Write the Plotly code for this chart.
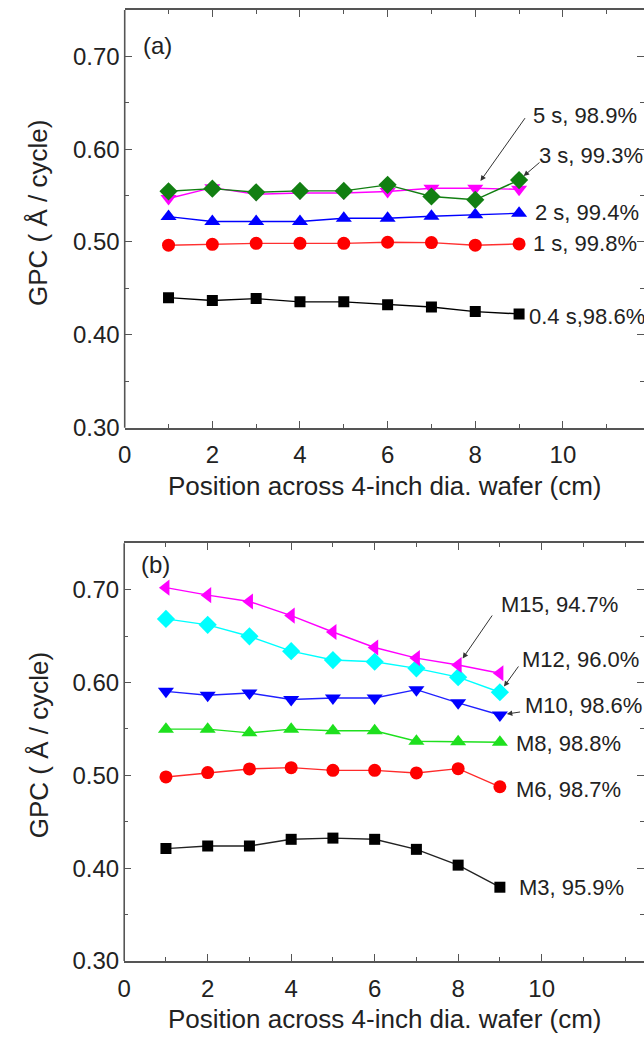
import plotly.graph_objects as go

# ---------------- data ----------------
pos = [1, 2, 3, 4, 5, 6, 7, 8, 9]

# panel (a): pulse time series
a_04s = [0.4400, 0.4370, 0.4390, 0.4355, 0.4355, 0.4325, 0.4300, 0.4250, 0.4225]
a_1s = [0.4965, 0.4975, 0.4985, 0.4985, 0.4985, 0.4997, 0.4993, 0.4965, 0.4979]
a_2s = [0.5273, 0.5220, 0.5220, 0.5220, 0.5255, 0.5255, 0.5277, 0.5294, 0.5309]
a_3s = [0.5546, 0.5574, 0.5535, 0.5550, 0.5550, 0.5615, 0.5490, 0.5454, 0.5667]
a_5s = [0.5468, 0.5585, 0.5514, 0.5528, 0.5528, 0.5543, 0.5578, 0.5578, 0.5567]
a_labels = ["0.4 s,98.6%", "1 s, 99.8%", "2 s, 99.4%", "3 s, 99.3%", "5 s, 98.9%"]

# panel (b): M series
b_M3 = [0.4210, 0.4238, 0.4238, 0.4310, 0.4323, 0.4310, 0.4202, 0.4032, 0.3794]
b_M6 = [0.4982, 0.5029, 0.5068, 0.5082, 0.5053, 0.5053, 0.5025, 0.5071, 0.4876]
b_M8 = [0.5497, 0.5497, 0.5457, 0.5497, 0.5479, 0.5479, 0.5367, 0.5362, 0.5355]
b_M10 = [0.5904, 0.5862, 0.5886, 0.5816, 0.5833, 0.5833, 0.5922, 0.5780, 0.5649]
b_M12 = [0.6684, 0.6620, 0.6497, 0.6337, 0.6241, 0.6223, 0.6152, 0.6057, 0.5894]
b_M15 = [0.7021, 0.6940, 0.6872, 0.6720, 0.6543, 0.6376, 0.6262, 0.6188, 0.6099]
b_labels = ["M3, 95.9%", "M6, 98.7%", "M8, 98.8%", "M10, 98.6%", "M12, 96.0%", "M15, 94.7%"]

x_ticks = [0, 2, 4, 6, 8, 10]
y_ticks = [0.30, 0.40, 0.50, 0.60, 0.70]
x_title = "Position across 4-inch dia. wafer (cm)"
y_title = "GPC ( Å / cycle)"

FONT = "Arial, Liberation Sans, sans-serif"
W, H = 644, 1048
TXT = "#222222"
AXC = "#555555"

fig = go.Figure()


def add(x, y, color, symbol, size, xa, ya, lcolor=None):
    fig.add_trace(go.Scatter(
        x=x, y=y, mode="lines+markers", xaxis=xa, yaxis=ya,
        line=dict(color=lcolor or color, width=1.4),
        marker=dict(color=color, symbol=symbol, size=size, line=dict(width=0)),
        showlegend=False, hoverinfo="skip"))


# panel (a)
add(pos, a_04s, "#000000", "square", 11, "x", "y")
add(pos, a_1s, "#ff0000", "circle", 13, "x", "y", "#ff3030")
add(pos, a_2s, "#0000ff", "triangle-up", 14, "x", "y")
add(pos, a_5s, "#ff00ff", "triangle-down", 14, "x", "y")
add(pos, a_3s, "#127f12", "diamond", 14, "x", "y")

# panel (b)
add(pos, b_M3, "#000000", "square", 11, "x2", "y2", "#222222")
add(pos, b_M6, "#ff0000", "circle", 13, "x2", "y2", "#ff2a2a")
add(pos, b_M8, "#1ee01e", "triangle-up", 14, "x2", "y2")
add(pos, b_M10, "#0000ff", "triangle-down", 14, "x2", "y2", "#2020ff")
add(pos, b_M12, "#00ffff", "diamond", 14, "x2", "y2")
add(pos, b_M15, "#ff00ff", "triangle-left", 14, "x2", "y2")


def xaxis(domain, rng, anchor):
    return dict(domain=domain, range=rng, anchor=anchor, showline=True, linecolor=AXC,
                linewidth=1.6, mirror="allticks", ticks="inside", ticklen=7, tickwidth=1.4,
                tickcolor=AXC, tickmode="array", tickvals=x_ticks,
                ticktext=[str(v) for v in x_ticks],
                showgrid=False, zeroline=False,
                tickfont=dict(family=FONT, size=24, color=TXT),
                ticklabelstandoff=5,
                minor=dict(ticks="inside", ticklen=4, tickwidth=1.2, tickcolor=AXC,
                           dtick=1, tick0=0, showgrid=False))


def yaxis(domain, anchor):
    return dict(domain=domain, anchor=anchor, range=[0.30, 0.75], showline=False,
                mirror="allticks", ticks="inside",
                ticklen=7, tickwidth=1.4, tickcolor=AXC, tickmode="array",
                tickvals=y_ticks, ticktext=["%.2f" % v for v in y_ticks],
                showgrid=False, zeroline=False,
                tickfont=dict(family=FONT, size=24, color=TXT),
                ticklabelstandoff=4,
                minor=dict(ticks="inside", ticklen=4, tickwidth=1.2, tickcolor=AXC,
                           dtick=0.05, tick0=0.3, showgrid=False))


ya_dom = [1 - 433 / H, 1 - 10 / H]
yb_dom = [1 - 973 / H, 1 - 550 / H]
xa_dom = [119 / W, 1.0]
xb_dom = [118.5 / W, 1.0]

fig.update_layout(
    width=W, height=H, margin=dict(l=0, r=0, t=0, b=0),
    paper_bgcolor="white", plot_bgcolor="white",
    font=dict(family=FONT, color=TXT),
    xaxis=xaxis(xa_dom, [0, 525 / 44.3], "y"),
    yaxis=yaxis(ya_dom, "x"),
    xaxis2=xaxis(xb_dom, [0, 525.5 / 42.2], "y2"),
    yaxis2=yaxis(yb_dom, "x2"),
    shapes=[
        dict(type="line", xref="x domain", yref="y domain", x0=0, x1=0, y0=0, y1=1,
             line=dict(color=AXC, width=1.6)),
        dict(type="line", xref="x2 domain", yref="y2 domain", x0=0, x1=0, y0=0, y1=1,
             line=dict(color=AXC, width=1.6)),
    ],
)

ann = []
LBL = dict(family=FONT, size=22, color=TXT)

# panel letters
ann.append(dict(text="(a)", x=135 / W, y=1 - 46 / H, xref="paper", yref="paper",
                xanchor="left", yanchor="middle", showarrow=False,
                font=dict(family=FONT, size=24, color=TXT)))
ann.append(dict(text="(b)", x=133 / W, y=1 - 572 / H, xref="paper", yref="paper",
                xanchor="left", yanchor="middle", showarrow=False,
                font=dict(family=FONT, size=24, color=TXT)))

# axis titles
for yc in (216, 755):
    ann.append(dict(text=y_title, x=32 / W, y=1 - yc / H, xref="paper", yref="paper",
                    textangle=-90, showarrow=False, xanchor="center", yanchor="middle",
                    font=dict(family=FONT, size=26, color=TXT)))
for yc in (492, 1032):
    ann.append(dict(text=x_title, x=382 / W, y=1 - yc / H, xref="paper", yref="paper",
                    showarrow=False, xanchor="center", yanchor="middle",
                    font=dict(family=FONT, size=26, color=TXT)))

# panel (a) labels (left x, centre y in data coords)
a_lab_pos = [(9.17, 0.420), (9.28, 0.4979), (9.32, 0.532), (9.42, 0.5926), (9.28, 0.636)]
for t, (lx, ly) in zip(a_labels, a_lab_pos):
    ann.append(dict(text=t, x=lx, y=ly, xref="x", yref="y", xanchor="left",
                    yanchor="middle", showarrow=False, font=LBL))
# arrows (a)
ann.append(dict(text="", x=pos[7], y=a_5s[7], xref="x", yref="y", ax=9.16, ay=0.635,
                axref="x", ayref="y", showarrow=True, arrowhead=2, arrowsize=1.1,
                arrowwidth=1, arrowcolor="#333333", standoff=9))
ann.append(dict(text="", x=pos[8], y=a_3s[8], xref="x", yref="y", ax=9.5, ay=0.587,
                axref="x", ayref="y", showarrow=True, arrowhead=2, arrowsize=1.1,
                arrowwidth=1, arrowcolor="#333333", standoff=6))

# panel (b) labels
b_lab_pos = [(9.40, 0.3787), (9.34, 0.4848), (9.34, 0.5344), (9.56, 0.5755), (9.49, 0.6245), (8.99, 0.6844)]
for t, (lx, ly) in zip(b_labels, b_lab_pos):
    ann.append(dict(text=t, x=lx, y=ly, xref="x2", yref="y2", xanchor="left",
                    yanchor="middle", showarrow=False, font=LBL))
ann.append(dict(text="", x=pos[7], y=b_M15[7], xref="x2", yref="y2", ax=8.84, ay=0.6737,
                axref="x2", ayref="y2", showarrow=True, arrowhead=2, arrowsize=1.1,
                arrowwidth=1, arrowcolor="#333333", standoff=8))
ann.append(dict(text="", x=pos[8], y=b_M12[8], xref="x2", yref="y2", ax=9.47, ay=0.6188,
                axref="x2", ayref="y2", showarrow=True, arrowhead=2, arrowsize=1.1,
                arrowwidth=1, arrowcolor="#333333", standoff=7))
ann.append(dict(text="", x=pos[8], y=b_M10[8], xref="x2", yref="y2", ax=9.52, ay=0.5684,
                axref="x2", ayref="y2", showarrow=True, arrowhead=2, arrowsize=1.1,
                arrowwidth=1, arrowcolor="#333333", standoff=7))

fig.update_layout(annotations=ann)
fig.write_html("out.html")
